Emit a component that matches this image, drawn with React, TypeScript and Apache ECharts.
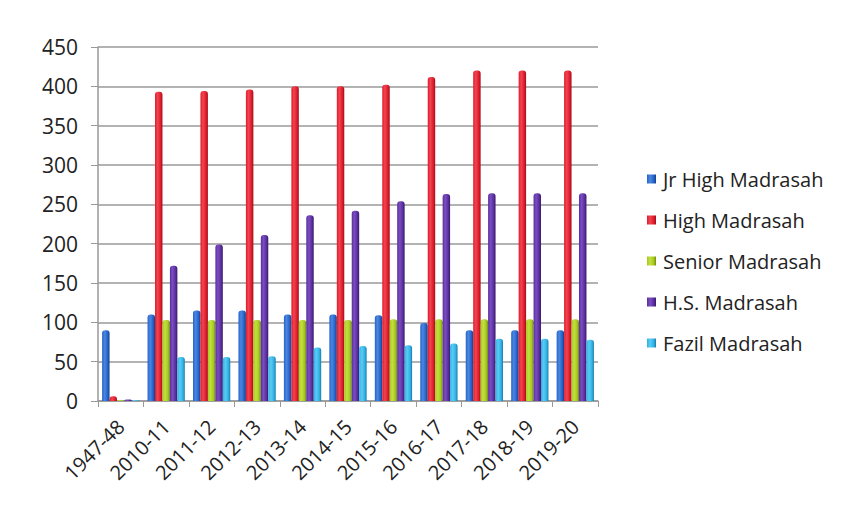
import React, { useEffect, useRef } from "react";
import * as echarts from "echarts";

const categories = ["1947-48", "2010-11", "2011-12", "2012-13", "2013-14", "2014-15", "2015-16", "2016-17", "2017-18", "2018-19", "2019-20"];
const seriesNames = ["Jr High Madrasah", "High Madrasah", "Senior Madrasah", "H.S. Madrasah", "Fazil Madrasah"];
const jrHigh = [90, 110, 115, 115, 110, 110, 109, 99, 90, 90, 90];
const high = [6, 393, 394, 396, 400, 400, 402, 412, 420, 420, 420];
const senior = [1, 103, 103, 103, 103, 103, 104, 104, 104, 104, 104];
const hs = [2, 172, 199, 211, 236, 242, 254, 263, 264, 264, 264];
const fazil = [1, 56, 56, 57, 68, 70, 71, 73, 79, 79, 78];
const yTicks = [0, 50, 100, 150, 200, 250, 300, 350, 400, 450];

const baseColors = ["#2463C9", "#E01B2B", "#A6C81E", "#5B2E9F", "#2FB2E6"];
const darkColors = ["#143E88", "#9E0E18", "#6E8A10", "#371A66", "#1A7AA8"];
const lightColors = ["#4C86E0", "#F04552", "#C2E040", "#7A4EC0", "#5ACBF2"];

export default function App() {
  const ref = useRef<HTMLDivElement>(null);
  useEffect(() => {
    if (!ref.current) return;
    const chart = echarts.init(ref.current, undefined, { renderer: "svg" });
    const values = [jrHigh, high, senior, hs, fazil];
    const font = "'Open Sans', Lato, sans-serif";
    chart.setOption({
      animation: false,
      backgroundColor: "#ffffff",
      textStyle: { fontFamily: font },
      grid: { left: 98, right: 259, top: 47, bottom: 119, containLabel: false },
      legend: {
        orient: "vertical",
        left: 642,
        top: 164,
        itemWidth: 9,
        itemHeight: 9,
        itemGap: 21,
        icon: "rect",
        data: seriesNames,
        textStyle: { fontSize: 20, color: "#222", fontFamily: font, padding: [0, 0, 0, 2] },
      },
      xAxis: {
        type: "category",
        data: categories,
        axisLine: { show: true, lineStyle: { color: "#999", width: 1.5 } },
        axisTick: { show: true, length: 6, lineStyle: { color: "#999" } },
        axisLabel: { rotate: 45, fontSize: 20, color: "#222", margin: 22, interval: 0, fontFamily: font },
      },
      yAxis: {
        type: "value",
        min: yTicks[0],
        max: yTicks[yTicks.length - 1],
        interval: 50,
        axisLine: { show: true, lineStyle: { color: "#999", width: 1.5 } },
        axisTick: { show: true, length: 7, inside: false, lineStyle: { color: "#999" } },
        axisLabel: { fontSize: 21, color: "#222", margin: 20, fontFamily: font },
        splitLine: { show: true, lineStyle: { color: "#9a9a9a", width: 1.5 } },
      },
      series: seriesNames.map((name, i) => ({
        name,
        type: "bar",
        data: values[i],
        barGap: "0%",
        barCategoryGap: "18%",
        itemStyle: {
          color: new echarts.graphic.LinearGradient(0, 0, 1, 0, [
            { offset: 0, color: baseColors[i] },
            { offset: 0.35, color: lightColors[i] },
            { offset: 0.75, color: baseColors[i] },
            { offset: 1, color: darkColors[i] },
          ]),
          borderRadius: [3, 3, 0, 0],
        },
        emphasis: { disabled: true },
      })),
      color: baseColors,
    });
    return () => chart.dispose();
  }, []);
  return <div ref={ref} style={{ position: "fixed", left: 0, top: 0, width: 857, height: 520 }} />;
}
